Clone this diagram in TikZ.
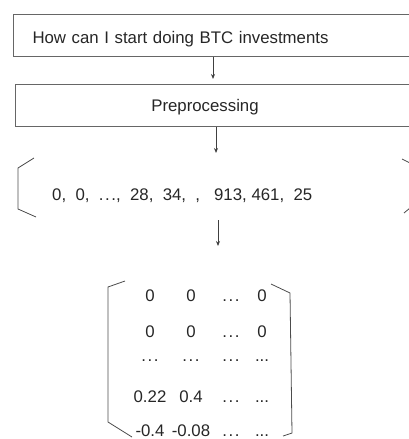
\documentclass[tikz,border=0pt]{standalone}
\usepackage{fontspec}
\setmainfont{Liberation Sans}
\usetikzlibrary{arrows.meta}
\tikzset{
  stepbox/.style={draw=black!60, line width=1pt, rectangle, minimum height=42,
    inner ysep=0pt, text height=16pt, text depth=0pt,
    font=\fontsize{16.8}{19}\selectfont, text=black!85},
  flow/.style={draw=black!75, line width=0.9pt, -{Stealth[length=5pt,width=4pt]}},
  brak/.style={draw=black!70, line width=0.8pt},
  entry/.style={font=\fontsize{16.8}{19}\selectfont, text=black!85, inner sep=0pt, anchor=base}
}
% plain periods, kept out of the foreach list
\newcommand{\pdots}{...}
% spaced baseline dots
\newcommand{\edots}{.\kern1.6pt.\kern1.6pt.}

\begin{document}
\begin{tikzpicture}[x=1pt,y=-1pt]
                \useasboundingbox (0,0) rectangle (409,439);

                %question box, runs past the right edge
                \node[stepbox, anchor=north west, text width=374, inner xsep=19, align=left] (q) at (13,14)
                    {How can I start doing BTC investments};

                %preprocessing box
                \node[stepbox, anchor=north west, minimum width=420] (pre) at (15,84) {};
                \node[entry] (pretxt) at (205,111) {Preprocessing};

                %token ids
                \node[entry, anchor=base west] (vec) at (52,200)
                    {0,\ \ 0,\ \ \edots,\ \ 28,\ \ 34,\ \ ,\ \ \ 913, 461,\ \ 25};
                \draw[brak] (34,158) -- (18,168) -- (18,209) -- (36,217);
                \draw[brak] (402,159) -- (416,166);
                \draw[brak] (404,213) -- (416,203);

                %arrows down
                \coordinate (vtop) at (216,153);
                \coordinate (vbot) at (218,220);
                \coordinate (mtop) at (218,246);
                \draw[flow] (q.south -| 213,0) -- ([yshift=5]pre.north -| 213,0);
                \draw[flow] (pre.south -| vtop) -- (vtop);
                \draw[flow] (vbot) -- (mtop);

                %embedding matrix, rows placed by baseline
                \foreach \y/\a/\b/\c/\d in {
                    301/0/0/\edots/0,
                    337/0/0/\edots/0,
                    361/\edots/\edots/\edots/\pdots,
                    402/0.22/0.4/\edots/\pdots,
                    436/-0.4/-0.08/\edots/\pdots}
                {
                    \node[entry] (a\y) at (150,\y) {\a};
                    \node[entry] (b\y) at (191,\y) {\b};
                    \node[entry] (c\y) at (231,\y) {\c};
                    \node[entry] (d\y) at (262,\y) {\d};
                }
                \draw[brak] (125,281) -- (108,287) -- (108,422) -- (132,437);
                \draw[brak] (271,284) -- (290,293) -- (292,433) -- (283,436);
\end{tikzpicture}
\end{document}
